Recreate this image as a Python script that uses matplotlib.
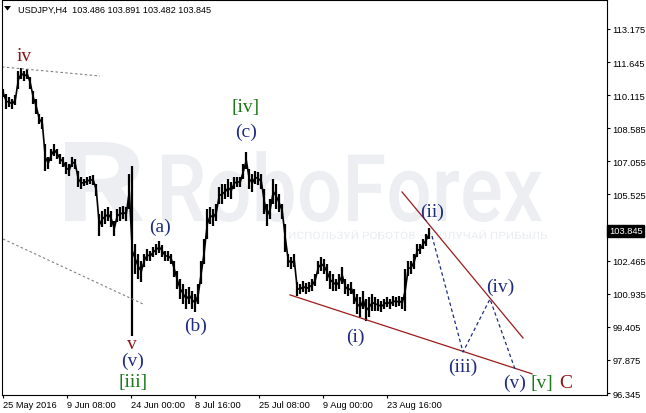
import numpy as np
import matplotlib
matplotlib.use("Agg")
import matplotlib.pyplot as plt
import matplotlib.transforms as mtransforms
from matplotlib.textpath import TextPath
from matplotlib.patches import PathPatch, Polygon
from matplotlib.font_manager import FontProperties

# USDJPY H4: one high/low pair for every 3 bars
highs = [110.40, 110.17, 110.03, 109.94, 110.12, 111.23, 111.37, 111.23, 111.32, 110.95,
         110.31, 109.94, 109.24, 109.10, 107.86, 107.26, 107.63, 107.86, 107.63, 107.39,
         107.26, 107.02, 106.93, 107.26, 107.16, 106.61, 106.33, 106.24, 106.33, 106.38,
         106.42, 106.01, 104.62, 104.76, 104.85, 104.94, 104.76, 104.30, 104.85, 104.94,
         104.99, 104.94, 106.47, 106.84, 103.23, 102.77, 102.45, 102.77, 103.00, 102.91,
         103.09, 103.23, 103.37, 103.19, 102.91, 102.91, 102.77, 102.45, 101.99, 101.62,
         101.38, 101.15, 101.25, 101.06, 100.92, 101.38, 102.45, 103.46, 104.85, 104.94,
         104.85, 105.08, 105.87, 106.01, 106.01, 106.24, 106.10, 106.33, 106.33, 106.33,
         106.93, 107.49, 106.70, 106.47, 106.61, 106.56, 106.47, 105.78, 105.08, 105.31,
         106.24, 106.01, 105.55, 105.08, 104.16, 102.77, 102.63, 102.77, 101.48, 101.38,
         101.52, 101.43, 101.48, 101.62, 101.85, 102.45, 102.63, 102.54, 102.31, 101.99,
         101.85, 101.62, 101.85, 102.17, 101.62, 101.38, 101.48, 101.15, 100.92, 100.78,
         101.06, 100.69, 100.78, 100.92, 100.78, 100.69, 100.60, 100.69, 100.78, 100.69,
         100.83, 100.78, 100.83, 100.78, 102.08, 102.45, 102.45, 102.77, 103.23, 103.23,
         103.46, 103.70, 103.97]
lows = [110.03, 109.47, 109.57, 109.47, 109.66, 110.40, 110.86, 110.77, 110.86, 110.40,
        109.71, 109.24, 108.78, 108.55, 106.61, 106.70, 107.07, 107.30, 107.16, 106.93,
        106.79, 106.47, 106.38, 106.79, 106.70, 105.87, 105.78, 105.91, 105.96, 106.01,
        105.96, 105.45, 103.60, 104.02, 104.16, 104.30, 104.02, 103.60, 104.25, 104.30,
        104.39, 104.30, 104.85, 98.98, 101.85, 101.62, 101.48, 102.17, 102.45, 102.45,
        102.63, 102.73, 102.82, 102.63, 102.45, 102.45, 102.31, 101.71, 101.15, 100.69,
        100.46, 100.23, 100.46, 100.23, 100.09, 100.46, 101.38, 102.31, 103.46, 104.16,
        104.07, 104.30, 105.08, 105.08, 105.31, 105.41, 105.31, 105.78, 105.87, 105.87,
        106.24, 106.70, 105.78, 105.64, 106.01, 105.96, 105.78, 104.62, 104.07, 104.39,
        105.08, 104.85, 104.71, 104.39, 102.86, 102.17, 102.08, 102.17, 100.83, 100.92,
        101.02, 100.92, 101.02, 101.06, 101.29, 101.85, 101.99, 101.85, 101.52, 101.15,
        101.06, 101.06, 101.15, 101.38, 100.92, 100.83, 100.92, 100.46, 100.00, 99.86,
        100.23, 99.67, 99.86, 100.14, 100.14, 100.14, 100.09, 100.23, 100.32, 100.23,
        100.37, 100.32, 100.37, 100.23, 100.14, 101.75, 101.85, 102.08, 102.63, 102.77,
        103.00, 103.14, 103.46]
bar_step = 3

ohlc_last = [103.486, 103.891, 103.482, 103.845]
symbol = "USDJPY,H4"

price_ticks = [113.175, 111.645, 110.115, 108.585, 107.055, 105.525,
               102.465, 100.935, 99.405, 97.875, 96.345]
time_ticks = [0, 64, 128, 192, 256, 320, 384]
time_labels = ["25 May 2016", "9 Jun 08:00", "24 Jun 00:00", "8 Jul 16:00",
               "25 Jul 08:00", "9 Aug 00:00", "23 Aug 16:00"]

# wave marks (bar, price, text, colour)
RED = "#8b1414"
NAVY = "#1f2c82"
GREEN = "#1a7a1a"
wave_labels = [
    (20.7, 111.97, "iv", RED),
    (128.7, 98.62, "v", RED),
    (129.7, 97.85, "(v)", NAVY),
    (129.7, 96.90, "[iii]", GREEN),
    (156.7, 104.07, "(a)", NAVY),
    (192.7, 99.49, "(b)", NAVY),
    (242.7, 108.46, "(c)", NAVY),
    (242.7, 109.57, "[iv]", GREEN),
    (351.7, 98.98, "(i)", NAVY),
    (428.7, 104.76, "(ii)", NAVY),
    (459.7, 97.59, "(iii)", NAVY),
    (496.7, 101.29, "(iv)", NAVY),
    (511.7, 96.85, "(v)", NAVY),
    (538.7, 96.85, "[v]", GREEN),
    (562.7, 96.85, "C", RED),
]

# drawn lines on the chart
channel_top = ([-1.3, 96.7], [111.42, 111.00])
channel_bot = ([-0.3, 139.7], [103.465, 100.46])
wedge_low = ([286.7, 528.7], [100.88, 97.23])
wedge_high = ([398.7, 519.7], [105.64, 98.89])
forecast_bars = [428.7, 459.7, 486.7, 511.7]
forecast_prices = [103.60, 98.24, 100.69, 97.45]

W, H = 646, 414
fig = plt.figure(figsize=(W / 100, H / 100), dpi=100)
fig.patch.set_facecolor("white")

# background layer in pixel coordinates (watermark + header)
bg = fig.add_axes([0, 0, 1, 1], zorder=0)
bg.set_xlim(0, W)
bg.set_ylim(H, 0)
bg.axis("off")

WM = "#eceef2"


def fit_text(ax, s, box, color, fp):
    tp = TextPath((0, 0), s, size=100, prop=fp)
    bb = tp.get_extents()
    x0, y0, x1, y1 = box
    tr = (mtransforms.Affine2D().translate(-bb.x0, -bb.y0)
          .scale((x1 - x0) / bb.width, -(y1 - y0) / bb.height).translate(x0, y1))
    ax.add_patch(PathPatch(tr.transform_path(tp), fc=color, ec="none", lw=0))


fit_text(bg, "R", (65, 143, 143, 222), WM, FontProperties(family="Roboto", weight="bold"))
fit_text(bg, "RoboForex", (162, 152, 542, 223), WM, FontProperties(family="Roboto", weight="medium"))
fit_text(bg, "ИСПОЛЬЗУЙ РОБОТОВ — ПОЛУЧАЙ ПРИБЫЛЬ", (289, 231, 547, 240), "#eaedf1",
         FontProperties(family="Roboto"))

bg.add_patch(Polygon([(4, 7), (11, 7), (7.5, 11.5)], closed=True, fc="black", ec="none"))
bg.text(18, 10, symbol + "  " + " ".join("%.3f" % v for v in ohlc_last),
        fontsize=6.6, family="Liberation Sans", va="center", ha="left")

# main chart
ax = fig.add_axes([2 / W, 18 / H, 605 / W, 395 / H], zorder=1)
ax.patch.set_alpha(0)
ax.set_xlim(-1.3, 603.7)
ax.set_ylim(96.253, 114.513)

x = np.arange(len(highs)) * bar_step
hi = np.array(highs)
lo = np.array(lows)
ax.vlines(x, lo, hi, color="black", lw=1.6)
ax.plot(x, (hi + lo) / 2, color="black", lw=1.2)

ax.plot(*channel_top, color="#808080", lw=0.8, ls=(0, (2.2, 2.2)))
ax.plot(*channel_bot, color="#808080", lw=0.8, ls=(0, (2.2, 2.2)))
ax.plot(*wedge_low, color="#9b1b1b", lw=0.9)
ax.plot(*wedge_high, color="#9b1b1b", lw=0.9)
ax.plot(forecast_bars, forecast_prices, color="#1f2c82", lw=0.9, ls=(0, (2.8, 2.2)))

for bx, by, s, c in wave_labels:
    ax.text(bx, by, s, color=c, fontsize=14, family="Liberation Serif",
            ha="center", va="center")

for sp in ax.spines.values():
    sp.set_color("black")
    sp.set_linewidth(0.8)

ax.yaxis.tick_right()
ax.set_yticks(price_ticks)
ax.set_yticklabels(["%.3f" % v for v in price_ticks])
ax.set_xticks(time_ticks)
ax.set_xticklabels(time_labels)
ax.tick_params(axis="both", direction="out", length=2.5, width=0.8, labelsize=6.7, pad=1.2)
for lab in ax.get_xticklabels() + ax.get_yticklabels():
    lab.set_family("Liberation Sans")
for lab in ax.get_xticklabels():
    lab.set_ha("left")

# current price tag
tag_tr = mtransforms.blended_transform_factory(ax.transAxes, ax.transData)
ax.text(1.003, ohlc_last[3], "%.3f" % ohlc_last[3], transform=tag_tr, fontsize=6.7,
        family="Liberation Sans", color="white", ha="left", va="center",
        bbox=dict(boxstyle="square,pad=0.15", fc="black", ec="black"))

fig.savefig("out.png", dpi=100)
